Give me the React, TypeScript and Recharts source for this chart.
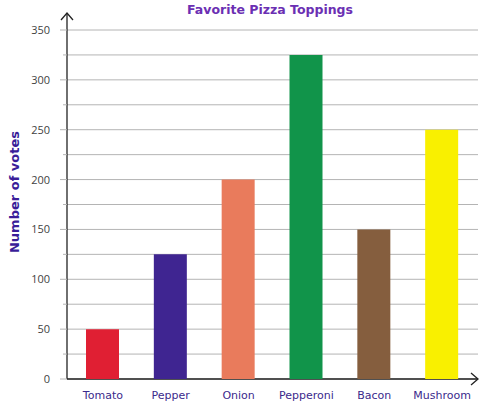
import { Bar, BarChart, CartesianGrid, Cell, XAxis, YAxis, usePlotArea } from 'recharts';

document.body.style.margin = '0';

const toppings = ['Tomato', 'Pepper', 'Onion', 'Pepperoni', 'Bacon', 'Mushroom'];
const votes = [50, 125, 200, 325, 150, 250];
const barColors = ['#e01f33', '#3f2591', '#e97b5c', '#11944a', '#855e3e', '#f9f000'];
const yTicks = [0, 25, 50, 75, 100, 125, 150, 175, 200, 225, 250, 275, 300, 325, 350];

const rows = toppings.map((name, i) => ({ name, votes: votes[i], color: barColors[i] }));

const LABEL_FONT = '"DejaVu Sans", sans-serif';

function YTick(props: any) {
  const { x, y, payload } = props;
  const labelled = payload.value % 50 === 0;
  return (
    <g>
      <line x1={labelled ? x - 7 : x - 4} x2={x} y1={y} y2={y} stroke="#b4b4b4" strokeWidth={1} />
      {labelled && (
        <text x={x - 17} y={y} dy={4} textAnchor="end" fill="#3f3f3f" fontSize={11} fontFamily='"Open Sans", sans-serif'>
          {payload.value}
        </text>
      )}
    </g>
  );
}

function XTick(props: any) {
  const { x, y, payload } = props;
  return (
    <text x={x} y={y + 12} textAnchor="middle" fill="#3b2a8c" fontSize={11} fontFamily={LABEL_FONT}>
      {payload.value}
    </text>
  );
}

// axis lines with open arrowheads, sized from the plot area
function Arrows() {
  const area = usePlotArea();
  if (!area) return null;
  const left = area.x;
  const bottom = area.y + area.height;
  const right = area.x + area.width;
  const top = area.y - 17;
  return (
    <g stroke="#222" strokeWidth={1.3} fill="none">
      <line x1={left} y1={bottom} x2={left} y2={top} />
      <polyline points={`${left - 6},${top + 7} ${left},${top} ${left + 6},${top + 7}`} />
      <line x1={left} y1={bottom} x2={right} y2={bottom} />
      <polyline points={`${right - 7},${bottom - 6} ${right},${bottom} ${right - 7},${bottom + 6}`} />
    </g>
  );
}

export default function App() {
  return (
    <div style={{ position: 'relative', width: 487, height: 402, background: '#fff' }}>
      <div
        style={{
          position: 'absolute',
          top: 2,
          left: 0,
          width: 540,
          textAlign: 'center',
          color: '#6b2fb3',
          fontFamily: LABEL_FONT,
          fontWeight: 700,
          fontSize: 12.5,
        }}
      >
        Favorite Pizza Toppings
      </div>
      <div
        style={{
          position: 'absolute',
          left: 14,
          top: 192,
          transform: 'translate(-50%, -50%) rotate(-90deg)',
          whiteSpace: 'nowrap',
          color: '#3a1d99',
          fontFamily: LABEL_FONT,
          fontWeight: 700,
          fontSize: 13,
        }}
      >
        Number of votes
      </div>
      <BarChart
        width={487}
        height={402}
        data={rows}
        margin={{ top: 30, right: 9, bottom: 0, left: 0 }}
        style={{ position: 'absolute', top: 0, left: 0 }}
      >
        <CartesianGrid horizontal vertical={false} stroke="#b4b4b4" strokeWidth={1} />
        <XAxis
          dataKey="name"
          axisLine={false}
          tickLine={false}
          interval={0}
          height={23}
          padding={{ left: 2, right: 2 }}
          tick={<XTick />}
        />
        <YAxis
          type="number"
          domain={[0, 350]}
          ticks={yTicks}
          interval={0}
          width={67}
          axisLine={false}
          tickLine={false}
          tickSize={0}
          tickMargin={0}
          tick={<YTick />}
        />
        <Bar dataKey="votes" barSize={33} isAnimationActive={false}>
          {rows.map((row) => (
            <Cell key={row.name} fill={row.color} />
          ))}
        </Bar>
        <Arrows />
      </BarChart>
    </div>
  );
}
